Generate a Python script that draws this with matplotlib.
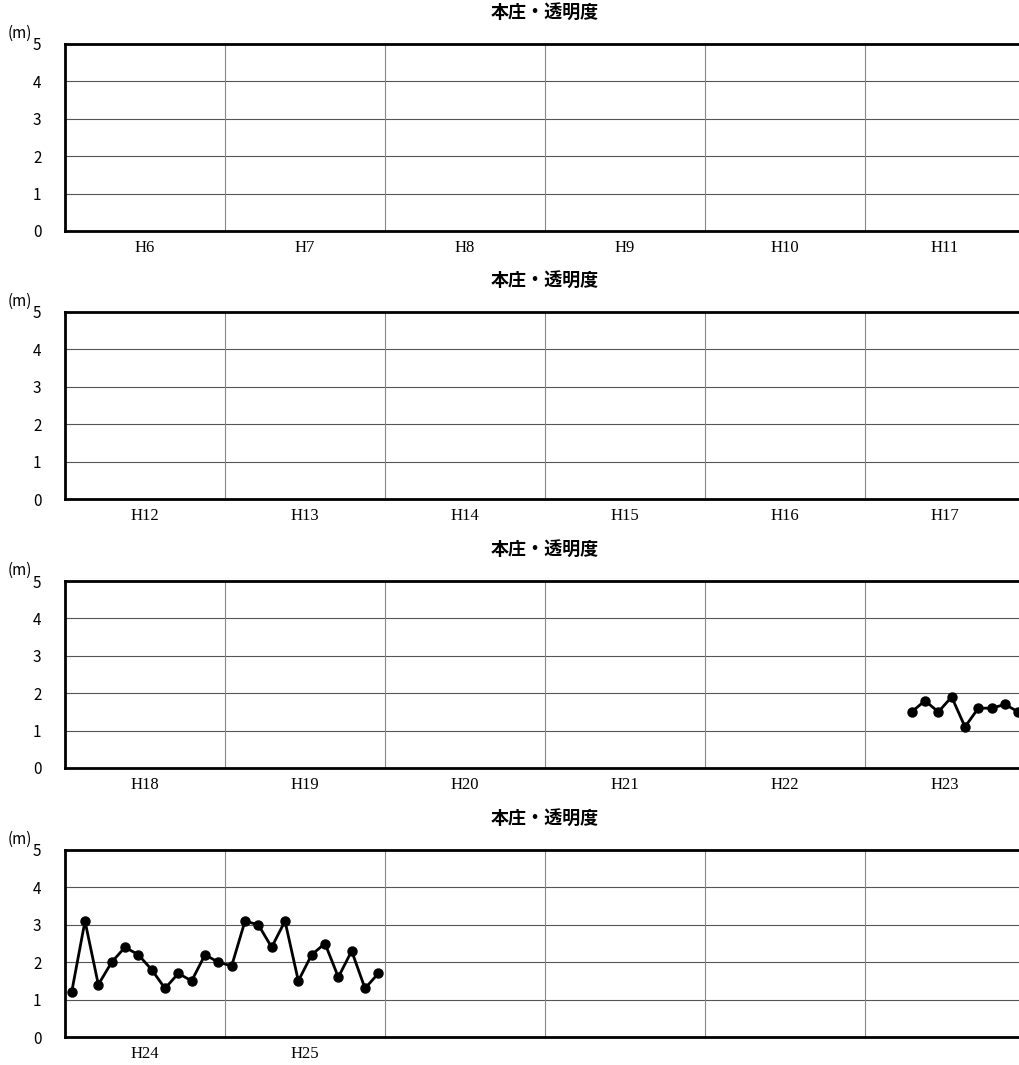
import numpy as np
import matplotlib
matplotlib.use("Agg")
import matplotlib.pyplot as plt

# monthly transparency (m), fiscal year Apr..Mar
title = "本庄・透明度"
panel_years = [[6, 7, 8, 9, 10, 11],
               [12, 13, 14, 15, 16, 17],
               [18, 19, 20, 21, 22, 23],
               [24, 25, None, None, None, None]]
h23 = [np.nan, np.nan, np.nan, 1.5, 1.8, 1.5, 1.9, 1.1, 1.6, 1.6, 1.7, 1.5]
h24 = [1.2, 3.1, 1.4, 2.0, 2.4, 2.2, 1.8, 1.3, 1.7, 1.5, 2.2, 2.0]
h25 = [1.9, 3.1, 3.0, 2.4, 3.1, 1.5, 2.2, 2.5, 1.6, 2.3, 1.3, 1.7]
values = {23: h23, 24: h24, 25: h25}

plt.rcParams['font.family'] = ['Noto Sans CJK JP', 'DejaVu Sans']

W, H = 1019, 1065
fig = plt.figure(figsize=(W / 100, H / 100), dpi=100)

left = 65
width = 960
ax_h = 187
tops = [44, 312, 581, 850]

for top, yrs in zip(tops, panel_years):
    ax = fig.add_axes([left / W, 1 - (top + ax_h) / H, width / W, ax_h / H])
    xs, ys = [], []
    for k, y in enumerate(yrs):
        if y is None or y not in values:
            continue
        for m, v in enumerate(values[y]):
            xs.append(k * 12 + m + 0.5)
            ys.append(v)
    if xs:
        ax.plot(xs, ys, color='black', lw=2.0, marker='o', ms=6.5,
                clip_on=True, zorder=3)
    ax.set_xlim(0, 72)
    ax.set_ylim(0, 5)
    for yy in [1, 2, 3, 4]:
        ax.axhline(yy, color='#555555', lw=0.8, zorder=1)
    for xx in range(12, 72, 12):
        ax.axvline(xx, color='#888888', lw=0.8, zorder=1)
    ax.set_yticks([0, 1, 2, 3, 4, 5])
    ax.set_yticklabels(['0', '1', '2', '3', '4', '5'], fontsize=11)
    ax.tick_params(axis='y', length=0, pad=17)
    ax.set_xticks([])
    for k, y in enumerate(yrs):
        if y is None:
            continue
        ax.text(k * 12 + 6, -0.24, "H%d" % y, ha='center', va='top',
                fontsize=12, family='Liberation Serif')
    for s in ['left', 'bottom', 'top']:
        ax.spines[s].set_linewidth(2.0)
    ax.spines['right'].set_visible(False)
    ax.set_title(title, fontsize=13, fontweight='bold', pad=19)
    fig.text(8 / W, 1 - (top - 2) / H, "(m)", fontsize=11,
             ha='left', va='bottom')

fig.savefig("out.png", dpi=100)
